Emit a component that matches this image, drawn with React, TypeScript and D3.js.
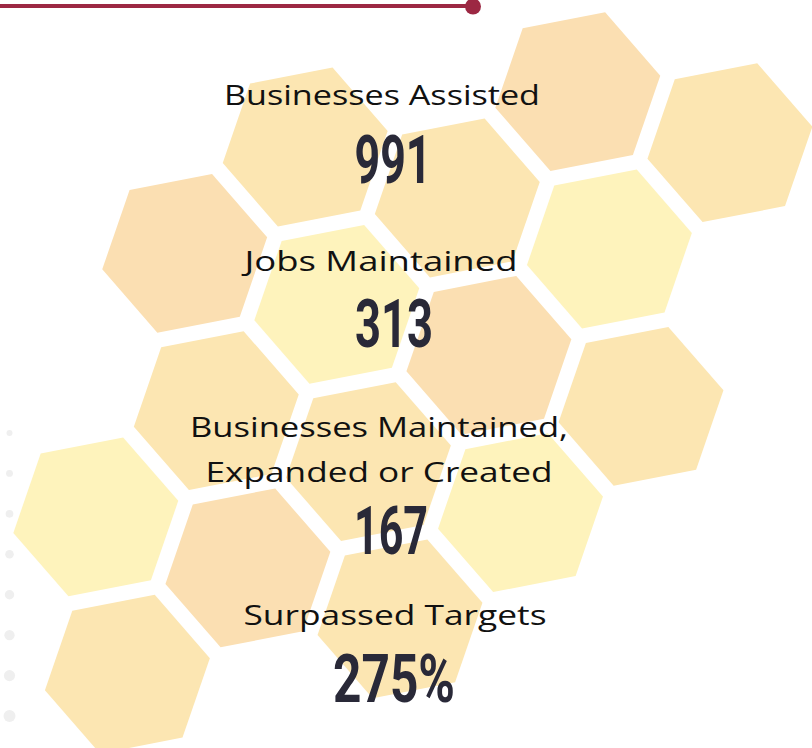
import React, { useEffect, useRef } from 'react';
import * as d3 from 'd3';

// metrics shown over the honeycomb
const labelLines = [
  ['Businesses Assisted'],
  ['Jobs Maintained'],
  ['Businesses Maintained,', 'Expanded or Created'],
  ['Surpassed Targets'],
];
const metricValues = ['991', '313', '167', '275%'];

// honeycomb cells: [step along up-right axis, step along down-right axis, tone]
const hexCells: [number, number, string][] = [
  [0, 0, 'orange'],
  [1, 0, 'medium'],
  [1, 1, 'medium'],
  [2, 1, 'orange'],
  [2, 2, 'medium'],
  [1, 2, 'light'],
  [0, 1, 'light'],
  [0, 2, 'orange'],
  [0, 3, 'medium'],
  [-1, 1, 'medium'],
  [-1, 2, 'medium'],
  [-1, 3, 'light'],
  [-2, 1, 'light'],
  [-2, 2, 'orange'],
  [-2, 3, 'medium'],
  [-3, 2, 'medium'],
];
const toneNames = ['orange', 'medium', 'light'];
const dotIndex = [0, 1, 2, 3, 4, 5, 6, 7];

const W = 812;
const H = 748;

// text layout (baselines, widths)
const labelLayout = [
  { y: [105], w: [316] },
  { y: [271], w: [273] },
  { y: [437, 482], w: [378, 347] },
  { y: [625], w: [303] },
];
const valueLayout = [
  { x: 393, y: 183, w: 77 },
  { x: 394, y: 347, w: 78 },
  { x: 391, y: 554, w: 74 },
  { x: 394, y: 702, w: 122 },
];
const labelX = [382, 381, 379, 395];

const App = () => {
  const ref = useRef<HTMLDivElement>(null);

  useEffect(() => {
    drawChart();
  }, []);

  const drawChart = () => {
    d3.select(ref.current).select('svg').remove();

    const svg = d3.select(ref.current)
      .append('svg')
      .attr('width', W)
      .attr('height', H)
      .style('display', 'block')
      .style('background', '#ffffff');

    const tone = d3.scaleOrdinal<string, string>()
      .domain(toneNames)
      .range(['#fbdfb2', '#fce6b2', '#fef3bc']);

    // lattice: origin cell + two axes
    const origin = [184.7, 253.3];
    const axisA = [120.5, -106.3];
    const axisB = [152.1, 51.0];
    const hexR = 84;
    const rot = -11 * Math.PI / 180;

    const hexPoints = d3.range(6).map(k => {
      const t = rot + k * Math.PI / 3;
      return [hexR * Math.cos(t), hexR * Math.sin(t)] as [number, number];
    });
    const hexLine = d3.line().curve(d3.curveLinearClosed);

    svg.append('g')
      .selectAll('path')
      .data(hexCells)
      .join('path')
      .attr('transform', d => {
        const cx = origin[0] + d[0] * axisA[0] + d[1] * axisB[0];
        const cy = origin[1] + d[0] * axisA[1] + d[1] * axisB[1];
        return `translate(${cx},${cy})`;
      })
      .attr('d', hexLine(hexPoints))
      .attr('fill', d => tone(d[2]));

    // top rule with end dot
    svg.append('line')
      .attr('x1', 0).attr('y1', 6)
      .attr('x2', 473).attr('y2', 6)
      .style('stroke', '#9c2843')
      .style('stroke-width', 4);
    svg.append('circle')
      .attr('cx', 473).attr('cy', 6.5).attr('r', 8)
      .style('fill', '#9c2843');

    // grey dots on left edge
    const dotY = d3.scaleLinear().domain([0, 7]).range([433, 716]);
    const dotR = d3.scaleLinear().domain([0, 7]).range([3, 6]);
    svg.append('g')
      .selectAll('circle')
      .data(dotIndex)
      .join('circle')
      .attr('cx', 9.5)
      .attr('cy', d => dotY(d))
      .attr('r', d => dotR(d))
      .style('fill', '#efefef');

    // labels
    labelLines.forEach((lines, i) => {
      lines.forEach((line, j) => {
        svg.append('text')
          .attr('x', labelX[i])
          .attr('y', labelLayout[i].y[j])
          .attr('text-anchor', 'middle')
          .attr('textLength', labelLayout[i].w[j])
          .attr('lengthAdjust', 'spacingAndGlyphs')
          .style('font-family', '"Open Sans", sans-serif')
          .style('font-size', '28px')
          .style('font-weight', 400)
          .style('fill', '#111111')
          .text(line);
      });
    });

    // values
    metricValues.forEach((v, i) => {
      const lay = valueLayout[i];
      svg.append('text')
        .attr('x', lay.x)
        .attr('y', lay.y)
        .attr('text-anchor', 'middle')
        .attr('textLength', lay.w)
        .attr('lengthAdjust', 'spacingAndGlyphs')
        .style('font-family', 'Roboto, sans-serif')
        .style('font-size', '66px')
        .style('font-weight', 700)
        .style('fill', '#292938')
        .text(v);
    });
  };

  return (
    <div ref={ref} style={{ position: 'absolute', left: 0, top: 0 }}></div>
  );
};

export default App;
